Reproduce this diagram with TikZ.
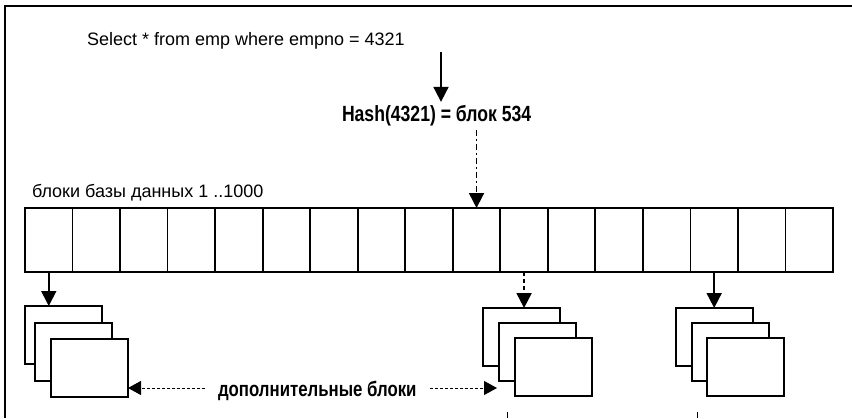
\documentclass[tikz,border=0pt]{standalone}
\usepackage{fontspec}
\setmainfont{Liberation Sans}
\newfontfamily\condb{Liberation Sans Bold}[FakeStretch=0.8]
\usetikzlibrary{arrows.meta}
\begin{document}
\begin{tikzpicture}[x=1pt,y=-1pt,
  cell/.style={draw, line width=1.8pt, minimum width=47.53pt, minimum height=64pt, inner sep=0pt, outer sep=0pt, anchor=north west},
  pg/.style={draw, line width=2pt, fill=white, inner sep=0pt, outer sep=0pt, anchor=north west, minimum width=77pt, minimum height=58pt},
  tipped/.style={-{Triangle[width=15pt,length=15pt]}},
  solidarrow/.style={tipped, line width=1.8pt},
  dasharrow/.style={tipped, line width=1.8pt, dash pattern=on 6pt off 3pt on 2pt off 3pt},
  shortdash/.style={tipped, line width=2pt, dash pattern=on 4pt off 3pt},
  thindash/.style={-{Triangle[width=14pt,length=13pt]}, line width=1pt, dash pattern=on 3pt off 2pt},
  lbl/.style={inner sep=0pt, outer sep=0pt, anchor=base west, font=\fontsize{18}{22}\selectfont},
  blbl/.style={inner sep=0pt, outer sep=0pt, anchor=base west, font=\condb\fontsize{21}{25}\selectfont}]
\useasboundingbox (0,0) rectangle (852,418);
% frame
\draw[line width=2.2pt] (852,6) -- (5,6) -- (5,418);
% texts
\node[lbl] (sel) at (87,45) {Select * from emp where empno = 4321};
\node[blbl, font=\condb\fontsize{22}{26}\selectfont] (hash) at (342,121) {Hash(4321) = блок 534};
\node[lbl] (dbl) at (32,197) {блоки базы данных 1 ..1000};
\node[blbl] (dop) at (218,396) {дополнительные блоки};
% cells
\foreach \i in {1,...,17} \node[cell] (c\i) at ({25+(\i-1)*47.53},208) {};
% stacks
\node[pg] (L1) at (25,306) {};
\node[pg] (L2) at (35,323) {};
\node[pg] (L3) at (51,339) {};
\node[pg] (M1) at (483,308) {};
\node[pg] (M2) at (499,323) {};
\node[pg] (M3) at (515,338) {};
\node[pg] (R1) at (676,308) {};
\node[pg] (R2) at (692,323) {};
\node[pg] (R3) at (707,338) {};
% arrows
\coordinate (q1) at (441,52);
\draw[solidarrow] (q1) -- ([yshift=3pt]q1 |- hash.north);
\draw[dasharrow, shorten <=4pt] (hash.south -| c10.north) -- (c10.north);
\draw[solidarrow] (c1.south) -- (c1.south |- L1.north);
\draw[shortdash] (c11.south) -- (c11.south |- M1.north);
\draw[solidarrow] (c15.south) -- (c15.south |- R1.north);
\coordinate (a1) at (205,388);
\coordinate (a2) at (430,388);
\draw[thindash] (a1) -- (L3.east |- a1);
\draw[thindash, shorten >=2pt] (a2) -- (M2.west |- a2);
% small marks at the lower edge
\coordinate (t1) at (507,412);
\coordinate (t2) at (697,412);
\draw[line width=1pt] (t1) -- ++(0,6);
\draw[line width=1pt] (t2) -- ++(0,6);
\end{tikzpicture}
\end{document}
